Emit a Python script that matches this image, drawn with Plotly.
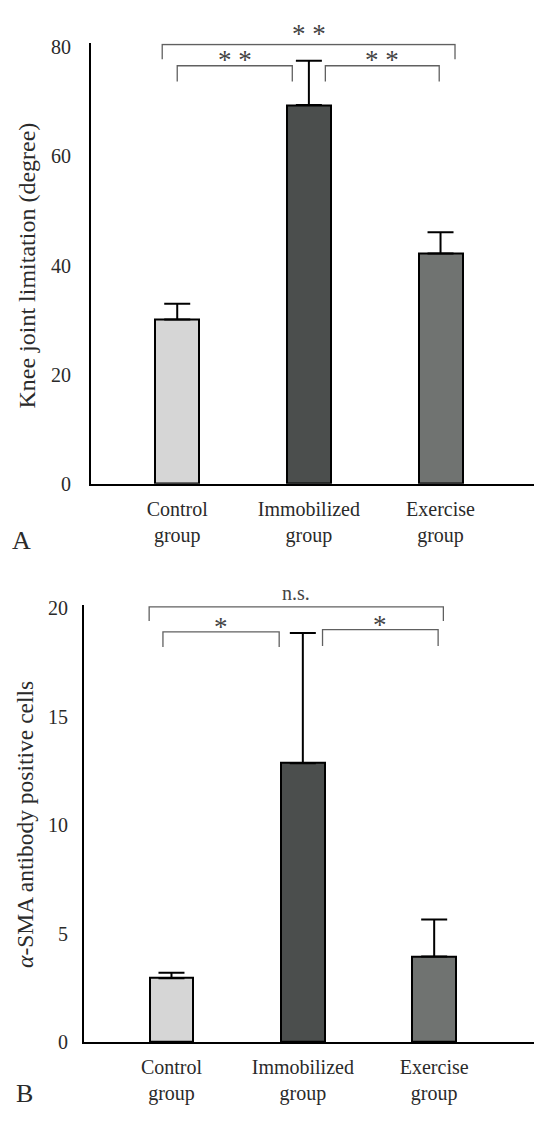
import plotly.graph_objects as go

# ---------------- data ----------------
groups = ["Control<br>group", "Immobilized<br>group", "Exercise<br>group"]
bar_colors = ["#d6d6d6", "#4b4e4d", "#707371"]

knee_mean = [30.1, 69.4, 42.2]
knee_err = [2.9, 8.1, 3.9]
knee_ticks = [0, 20, 40, 60, 80]

sma_mean = [2.95, 12.85, 3.95]
sma_err = [0.25, 6.0, 1.7]
sma_ticks = [0, 5, 10, 15, 20]

# comparisons: (group a, group b, label)
knee_comp = [(0, 1, "*\u00a0*"), (1, 2, "*\u00a0*"), (0, 2, "*\u00a0*")]
sma_comp = [(0, 1, "*"), (1, 2, "*"), (0, 2, "n.s.")]

FONT = "Liberation Serif"
TXT = "#2a2a2a"
W, H = 534, 1122

fig = go.Figure()

xpos = list(range(len(groups)))


def add_panel(xa, ya, means, errs):
    fig.add_trace(go.Bar(
        x=xpos, y=means, width=0.334,
        marker=dict(color=bar_colors, line=dict(color="black", width=2)),
        error_y=dict(type="data", array=errs, arrayminus=[0] * len(errs),
                     symmetric=False, color="black", thickness=2, width=13),
        xaxis=xa, yaxis=ya, showlegend=False, hoverinfo="skip",
    ))


add_panel("x", "y", knee_mean, knee_err)
add_panel("x2", "y2", sma_mean, sma_err)


def yd(px_top, px_bot):
    return [(H - px_bot) / H, (H - px_top) / H]


axis_common = dict(showgrid=False, zeroline=False, showline=True,
                   linecolor="black", linewidth=2, mirror=False,
                   tickfont=dict(family=FONT, size=20, color=TXT))

fig.update_layout(
    width=W, height=H, margin=dict(l=0, r=0, t=0, b=0),
    paper_bgcolor="white", plot_bgcolor="white",
    bargap=0,
    xaxis=dict(domain=[91 / W, 1], range=[-0.655, 2.71], anchor="y",
               tickvals=xpos, ticktext=groups, ticks="outside", ticklen=6,
               tickcolor="rgba(0,0,0,0)", **axis_common),
    yaxis=dict(domain=yd(36, 484), range=[0, 80.7], anchor="x",
               tickvals=knee_ticks, ticks="outside", ticklen=14,
               tickcolor="rgba(0,0,0,0)", **axis_common),
    xaxis2=dict(domain=[84 / W, 1], range=[-0.666, 2.76], anchor="y2",
                tickvals=xpos, ticktext=groups, ticks="outside", ticklen=6,
                tickcolor="rgba(0,0,0,0)", **axis_common),
    yaxis2=dict(domain=yd(607, 1052), range=[0, 20.15], anchor="x2",
                tickvals=sma_ticks, ticks="outside", ticklen=10,
                tickcolor="rgba(0,0,0,0)", **axis_common),
)

BR = "#606060"
SIG = "#444444"


def add_brackets(xref, yref, comps, levels, offsets, shifts, sizes):
    for (a, b, lab), (ytop, yleg), (oa, ob), sh, sz in zip(comps, levels, offsets, shifts, sizes):
        x0, x1 = a + oa, b + ob
        fig.add_shape(type="path",
                      path=f"M {x0} {yleg} L {x0} {ytop} L {x1} {ytop} L {x1} {yleg}",
                      xref=xref, yref=yref, line=dict(color=BR, width=1.3))
        fig.add_annotation(x=(x0 + x1) / 2, y=ytop, xref=xref, yref=yref,
                           text=lab, showarrow=False, xanchor="center",
                           yanchor="bottom", yshift=sh,
                           font=dict(family=FONT, size=sz, color=SIG))


add_brackets("x", "y", knee_comp,
             [(76.6, 73.7), (76.6, 73.7), (80.5, 77.8)],
             [(0.0, -0.126), (0.125, -0.01), (-0.114, 0.11)],
             [-11, -11, -7], [27, 27, 27])
add_brackets("x2", "y2", sma_comp,
             [(18.9, 18.2), (19.0, 18.25), (20.05, 19.4)],
             [(-0.065, -0.18), (0.15, 0.03), (-0.17, 0.07)],
             [-12.5, -12.5, 1], [27, 27, 20])

# axis titles
fig.add_annotation(x=27 / W, y=(H - 262) / H, xref="paper", yref="paper",
                   xanchor="center", yanchor="middle",
                   text="Knee joint limitation (degree)", textangle=-90,
                   showarrow=False, font=dict(family=FONT, size=24, color=TXT))
fig.add_annotation(x=25 / W, y=(H - 831) / H, xref="paper", yref="paper",
                   xanchor="center", yanchor="middle",
                   text="<i>α</i>-SMA antibody positive cells", textangle=-90,
                   showarrow=False, font=dict(family=FONT, size=23.5, color=TXT))

# panel letters
fig.add_annotation(x=22 / W, y=(H - 542) / H, xref="paper", yref="paper",
                   xanchor="center", yanchor="middle",
                   text="A", showarrow=False, font=dict(family=FONT, size=26, color=TXT))
fig.add_annotation(x=24 / W, y=(H - 1104) / H, xref="paper", yref="paper",
                   xanchor="center", yanchor="middle",
                   text="B", showarrow=False, font=dict(family=FONT, size=26, color=TXT))

fig.write_html(
    "out.html", config={"displayModeBar": False},
    post_script=("document.documentElement.style.margin='0px';"
                 "document.documentElement.style.overflow='hidden';"
                 "document.body.style.margin='0px';document.body.style.padding='0px';"
                 "document.body.style.overflow='hidden';"))
